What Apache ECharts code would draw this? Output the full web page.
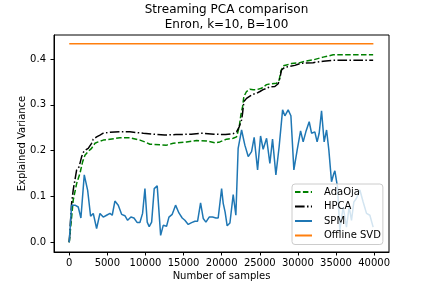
<!DOCTYPE html>
<html>
<head>
<meta charset="utf-8">
<script src="https://cdn.jsdelivr.net/npm/echarts@6/dist/echarts.min.js"></script>
<style>html,body{margin:0;padding:0;background:#fff}#c{width:432px;height:288px}</style>
</head>
<body>
<div id="c"></div>
<script>
const xTicks = [0, 5000, 10000, 15000, 20000, 25000, 30000, 35000, 40000];
const yTicks = [0.0, 0.1, 0.2, 0.3, 0.4];

const spmX = [0,310,750,1180,1530,1970,2410,2800,3150,3590,4030,4460,4900,5340,5640,5990,6430,6870,7300,7660,8090,8490,8920,9270,9620,9930,10230,10490,10810,11150,11540,11990,12330,12770,13080,13510,13950,14390,14820,15170,15610,16050,16490,16840,17230,17580,17930,18360,18800,19240,19540,19990,20200,20450,20720,21080,21510,21860,22160,22610,23040,23480,23920,24260,24710,25100,25440,25890,26320,26670,27110,27540,27990,28290,28720,29080,29470,29900,30350,30690,31040,31480,31790,32220,32520,32790,33100,33440,33760,34060,34410,34710,34850,35200,35500,35940,36370,36720,37030,37340,37690,38130,38560,39000,39440,39870];
const spmY = [0.000,0.081,0.081,0.077,0.053,0.147,0.114,0.057,0.063,0.030,0.063,0.055,0.059,0.063,0.059,0.090,0.081,0.061,0.058,0.048,0.055,0.053,0.043,0.043,0.063,0.117,0.044,0.034,0.044,0.117,0.123,0.015,0.037,0.035,0.055,0.061,0.081,0.064,0.053,0.048,0.039,0.043,0.046,0.046,0.086,0.052,0.044,0.055,0.055,0.053,0.053,0.117,0.085,0.066,0.036,0.042,0.104,0.059,0.205,0.245,0.212,0.187,0.198,0.229,0.158,0.232,0.203,0.227,0.172,0.225,0.147,0.209,0.289,0.276,0.289,0.276,0.158,0.201,0.243,0.219,0.241,0.263,0.238,0.241,0.219,0.238,0.287,0.219,0.245,0.201,0.132,0.150,0.156,0.120,0.026,0.077,0.033,0.077,0.048,0.088,0.096,0.114,0.088,0.063,0.059,0.033];

const hpcaX = [0,310,520,750,970,1300,1630,1930,2490,2930,3150,3590,4030,4460,5340,6650,7960,9710,11000,12500,14000,16000,17500,19000,20500,21510,21950,22300,22610,22740,22910,23260,23700,24130,24570,25010,25440,25880,26320,26980,27410,27630,27850,28290,28940,29600,30260,30910,32000,33310,34620,39870];
const hpcaY = [0.000,0.085,0.114,0.114,0.158,0.165,0.187,0.199,0.205,0.216,0.225,0.230,0.234,0.238,0.240,0.241,0.241,0.238,0.236,0.234,0.235,0.236,0.238,0.236,0.235,0.237,0.241,0.252,0.267,0.282,0.307,0.314,0.319,0.323,0.325,0.329,0.333,0.336,0.339,0.340,0.346,0.358,0.376,0.382,0.384,0.386,0.390,0.391,0.392,0.395,0.397,0.397];

const adaX = [0,520,970,1400,1760,2060,2490,2930,3370,3800,4460,5340,6650,7960,9270,9930,10580,12770,13640,15390,16710,18020,19110,19760,20640,21510,21950,22300,22520,22740,22910,23260,23700,24130,24570,25230,25880,26540,27200,27540,27760,28070,28510,29170,30260,30910,32000,33310,34620,39870];
const adaY = [0.000,0.092,0.128,0.150,0.176,0.190,0.198,0.205,0.216,0.219,0.223,0.225,0.228,0.228,0.223,0.219,0.214,0.212,0.216,0.219,0.222,0.221,0.217,0.219,0.225,0.227,0.230,0.252,0.278,0.296,0.318,0.329,0.334,0.333,0.333,0.336,0.344,0.346,0.347,0.354,0.373,0.385,0.387,0.390,0.392,0.395,0.398,0.404,0.409,0.409];

const svdX = [0, 39900];
const svdY = [0.433, 0.433];

const seriesNames = ['AdaOja', 'HPCA', 'SPM', 'Offline SVD'];

function pairs(xs, ys) { return xs.map((x, i) => [x, ys[i]]); }

const FONT = 'DejaVu Sans';
const chart = echarts.init(document.getElementById('c'), null, {renderer: 'canvas'});
chart.setOption({
  animation: false,
  backgroundColor: '#fff',
  title: {
    text: 'Streaming PCA comparison\nEnron, k=10, B=100',
    left: 221.5, top: -2, textAlign: 'center',
    textStyle: {fontFamily: FONT, fontSize: 12, fontWeight: 'normal', color: '#000', lineHeight: 14.5}
  },
  grid: {left: 54, top: 35, right: 43, bottom: 36, show: true, borderColor: '#000', borderWidth: 1, backgroundColor: 'transparent'},
  xAxis: {
    type: 'value', min: -2000, max: 41950,
    name: 'Number of samples', nameLocation: 'middle', nameGap: 19, nameMoveOverlap: false,
    nameTextStyle: {fontFamily: FONT, fontSize: 10, color: '#000'},
    axisLine: {show: true, onZero: false, lineStyle: {color: '#000', width: 1}},
    axisTick: {show: true, inside: false, length: 3.5, lineStyle: {color: '#000'}, customValues: xTicks},
    axisLabel: {fontFamily: FONT, fontSize: 10, color: '#000', margin: 6, customValues: xTicks,
      formatter: v => String(Math.round(v))},
    splitLine: {show: false}
  },
  yAxis: {
    type: 'value', min: -0.0212, max: 0.4523,
    name: 'Explained Variance', nameLocation: 'middle', nameGap: 27, nameMoveOverlap: false,
    nameTextStyle: {fontFamily: FONT, fontSize: 10, color: '#000'},
    axisLine: {show: true, onZero: false, lineStyle: {color: '#000', width: 1}},
    axisTick: {show: true, inside: false, length: 3.5, lineStyle: {color: '#000'}, customValues: yTicks},
    axisLabel: {fontFamily: FONT, fontSize: 10, color: '#000', margin: 8, customValues: yTicks,
      formatter: v => v.toFixed(1)},
    splitLine: {show: false}
  },
  legend: {
    orient: 'vertical', left: 292, top: 184, z: 20,
    data: seriesNames,
    itemWidth: 17, itemHeight: 10, itemGap: 2.5,
    padding: [2, 2, 3, 2],
    backgroundColor: 'rgba(255,255,255,0.8)', borderColor: '#ccc', borderWidth: 1, borderRadius: 3,
    itemStyle: {color: 'rgba(0,0,0,0)', borderWidth: 0, opacity: 0},
    textStyle: {fontFamily: FONT, fontSize: 10, color: '#000', lineHeight: 12, padding: [0, 0, 0, 7]}
  },
  series: [
    {name: 'AdaOja', type: 'line', symbol: 'none', data: pairs(adaX, adaY),
     lineStyle: {color: '#008000', width: 1.5, type: [5.5, 2.4]}, itemStyle: {color: '#008000'}},
    {name: 'HPCA', type: 'line', symbol: 'none', data: pairs(hpcaX, hpcaY),
     lineStyle: {color: '#000', width: 1.5, type: [9.6, 2.4, 1.5, 2.4]}, itemStyle: {color: '#000'}},
    {name: 'SPM', type: 'line', symbol: 'none', data: pairs(spmX, spmY),
     lineStyle: {color: '#1f77b4', width: 1.5}, itemStyle: {color: '#1f77b4'}},
    {name: 'Offline SVD', type: 'line', symbol: 'none', data: pairs(svdX, svdY),
     lineStyle: {color: '#ff7f0e', width: 1.5}, itemStyle: {color: '#ff7f0e'}}
  ]
});
</script>
</body>
</html>
